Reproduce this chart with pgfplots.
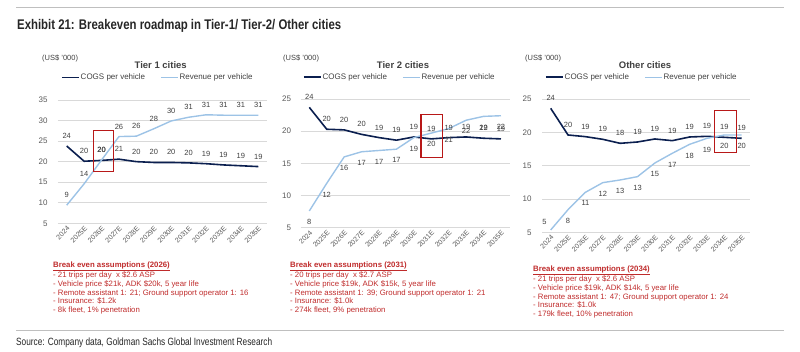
\documentclass[border=0pt]{standalone}
\usepackage{fontspec}
\usepackage{graphicx}
\setmainfont{Liberation Sans}
\usepackage{pgfplots}
\pgfplotsset{compat=1.18}
\definecolor{cogs}{HTML}{0B1F4F}
\definecolor{rev}{HTML}{9DC3E6}
\definecolor{boxred}{HTML}{B81818}
\definecolor{txtred}{HTML}{BF2B2B}
\definecolor{lblgray}{HTML}{404040}
\definecolor{tickgray}{HTML}{595959}
\definecolor{gridgray}{HTML}{D9D9D9}
\definecolor{rulegray}{HTML}{BFBFBF}
\pgfplotsset{
  panel/.style={
    scale only axis, clip=false,
    xmin=-0.5, xmax=11.5, xtick={0,...,11},
    xticklabels={2024,2025E,2026E,2027E,2028E,2029E,2030E,2031E,2032E,2033E,2034E,2035E},
    x tick label style={rotate=45, anchor=north east, font=\fontsize{7}{8}\selectfont, text=tickgray, inner sep=1.5pt},
    y tick label style={font=\fontsize{8}{9}\selectfont, text=tickgray},
    /pgf/number format/assume math mode=true,
    ymajorgrids, grid style={gridgray, line width=0.7pt},
    axis line style={draw=none}, major tick length=0pt,
    legend columns=2,
    legend style={draw=none, fill=none, anchor=west, font=\fontsize{8}{9}\selectfont, text=lblgray,
      inner sep=0pt, nodes={inner sep=1pt}, /tikz/every even column/.append style={column sep=14pt}},
    legend image code/.code={\draw[#1] (0pt,0pt) -- (17pt,0pt);},
  },
  lab/.style={nodes near coords, point meta=explicit symbolic,
    every node near coord/.append style={font=\fontsize{7.5}{8}\selectfont, text=lblgray}},
  above lab/.style={lab, every node near coord/.append style={anchor=south, yshift=3.3pt}},
  below lab/.style={lab, every node near coord/.append style={anchor=north, yshift=-4.5pt}},
  cogsl/.style={cogs, line width=1.6pt, no marks},
  revl/.style={rev, line width=1.4pt, no marks},
}
\begin{document}
\begin{tikzpicture}[x=1pt,y=1pt]
\path[use as bounding box] (0,0) rectangle (800,352);
% rules and titles
\draw[rulegray, line width=0.8pt] (16,344.3) -- (784,344.3);
\draw[rulegray, line width=0.8pt] (16,22) -- (784,22);
\node[anchor=base west, inner sep=0pt, font=\bfseries\fontsize{14}{16}\selectfont, text=black!85] at (17,322) {\resizebox{324pt}{\height}{Exhibit 21: Breakeven roadmap in Tier-1/ Tier-2/ Other cities}};
\node[anchor=base west, inner sep=0pt, font=\fontsize{10.5}{12}\selectfont, text=black!85] at (16,6) {\resizebox{256pt}{\height}{Source: Company data, Goldman Sachs Global Investment Research}};
% panel headings
\foreach \xx/\tt/\tx in {42/Tier 1 cities/160.7, 283/Tier 2 cities/403, 525/Other cities/645}{
  \node[anchor=west, inner sep=0pt, font=\fontsize{7.5}{8}\selectfont, text=lblgray] at (\xx,293) {(US\$ '000)};
  \node[inner sep=0pt, font=\bfseries\fontsize{9.5}{11}\selectfont, text=lblgray] at (\tx,287) {\tt};
}
% assumption texts
\node[anchor=north west, inner sep=0pt, align=left, text=txtred, font=\fontsize{7.8}{8.7}\selectfont] at (53,90.5) {\underline{\textbf{Break even assumptions (2026)}}\\- 21 trips per day\ \ x \$2.6 ASP\\- Vehicle price \$21k, ADK \$20k, 5 year life\\- Remote assistant 1: 21; Ground support operator 1: 16\\- Insurance: \$1.2k\\- 8k fleet, 1\% penetration};
\node[anchor=north west, inner sep=0pt, align=left, text=txtred, font=\fontsize{7.8}{8.7}\selectfont] at (290,90.5) {\underline{\textbf{Break even assumptions (2031)}}\\- 20 trips per day\ \ x \$2.7 ASP\\- Vehicle price \$19k, ADK \$15k, 5 year life\\- Remote assistant 1: 39; Ground support operator 1: 21\\- Insurance: \$1.0k\\- 274k fleet, 9\% penetration};
\node[anchor=north west, inner sep=0pt, align=left, text=txtred, font=\fontsize{7.8}{8.7}\selectfont] at (533,86.5) {\underline{\textbf{Break even assumptions (2034)}}\\- 21 trips per day\ \ x \$2.6 ASP\\- Vehicle price \$19k, ADK \$14k, 5 year life\\- Remote assistant 1: 47; Ground support operator 1: 24\\- Insurance: \$1.0k\\- 179k fleet, 10\% penetration};

% Panel 1
\begin{axis}[panel, at={(58pt,128.7pt)}, anchor=south west, width=209pt, height=123.3pt,
  ymin=5, ymax=35, ytick={5,10,...,35}, y tick label style={xshift=-7pt},
  legend style={at={(axis description cs:0.014,1.184)}}]
\addplot[cogsl, above lab] coordinates {(0,23.8)[24] (1,20.1)[20] (2,20.3)[20] (3,20.6)[21] (4,20.0)[20] (5,19.8)[20] (6,19.8)[20] (7,19.7)[20] (8,19.5)[19] (9,19.2)[19] (10,19.0)[19] (11,18.8)[19]};
\addplot[revl, above lab] coordinates {(0,9.4)[9] (1,14.6)[14] (2,20.4)[20] (3,26.1)[26] (4,26.2)[26] (5,28.0)[28] (6,29.9)[30] (7,30.8)[31] (8,31.4)[31] (9,31.3)[31] (10,31.3)[31] (11,31.3)[31]};
\legend{COGS per vehicle, Revenue per vehicle}
\draw[boxred, line width=1.3pt] (axis cs:1.53,17.6) rectangle (axis cs:2.68,27.5);
\end{axis}

% Panel 2
\begin{axis}[panel, at={(300.6pt,124.3pt)}, anchor=south west, width=209.1pt, height=128.7pt,
  ymin=5, ymax=25, ytick={5,10,...,25}, y tick label style={xshift=-6pt},
  legend style={at={(axis description cs:0.011,1.169)}}]
\addplot[cogsl, above lab] coordinates {(0,23.7)[24] (1,20.3)[20] (2,20.2)[20] (3,19.5)[20] (4,19.0)[19] (5,18.6)[19] (6,19.1)[19] (7,18.8)[19] (8,19.0)[19] (9,19.1)[19] (10,18.9)[19] (11,18.8)[19]};
\addplot[revl, below lab] coordinates {(0,7.6)[8] (1,11.9)[12] (2,16.0)[16] (3,16.8)[17] (4,17.0)[17] (5,17.2)[17] (6,19.0)[19] (7,19.7)[20] (8,20.4)[21] (9,21.7)[22] (10,22.3)[22] (11,22.4)[22]};
\legend{COGS per vehicle, Revenue per vehicle}
\draw[boxred, line width=1.3pt] (axis cs:6.41,15.9) rectangle (axis cs:7.63,22.6);
\end{axis}

% Panel 3
\begin{axis}[panel, at={(542pt,119.7pt)}, anchor=south west, width=208.4pt, height=133.3pt,
  ymin=5, ymax=25, ytick={5,10,...,25}, y tick label style={xshift=-7pt},
  legend style={at={(axis description cs:0.014,1.163)}}]
\addplot[cogsl, above lab] coordinates {(0,23.6)[24] (1,19.6)[20] (2,19.35)[19] (3,18.95)[19] (4,18.35)[18] (5,18.55)[19] (6,19.0)[19] (7,18.75)[19] (8,19.3)[19] (9,19.4)[19] (10,19.25)[19] (11,19.1)[19]};
\addplot[revl, below lab] coordinates {(0,5.35)[] (1,8.4)[8] (2,11.0)[11] (3,12.45)[12] (4,12.85)[13] (5,13.35)[13] (6,15.4)[15] (7,16.85)[17] (8,18.2)[18] (9,19.1)[19] (10,19.6)[20] (11,19.6)[20]};
\legend{COGS per vehicle, Revenue per vehicle}
\addplot[draw=none, no marks, forget plot, lab, every node near coord/.append style={anchor=south east, xshift=-0.5pt, yshift=2pt}] coordinates {(0,5.35)[5]};
\draw[boxred, line width=1.3pt] (axis cs:9.42,16.95) rectangle (axis cs:10.71,23.25);
\end{axis}
\end{tikzpicture}
\end{document}
